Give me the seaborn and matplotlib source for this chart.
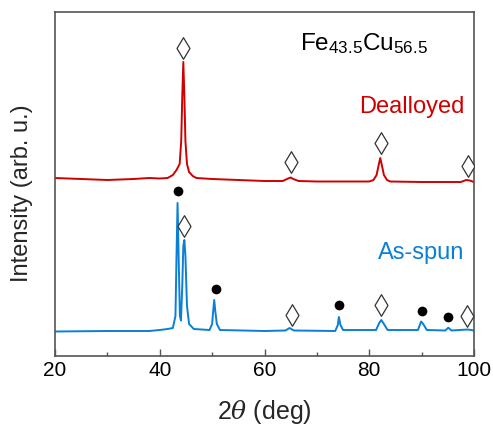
import numpy as np
import pandas as pd
import matplotlib
matplotlib.use("Agg")
import matplotlib.pyplot as plt
import seaborn as sns

# ---- data (intensity in arbitrary units) ----
dealloyed_2theta = [20, 25, 30, 35, 38, 40, 41.5, 42.5, 43.2, 43.8, 44.1, 44.3, 44.5,
                    44.7, 44.9, 45.2, 45.6, 46.3, 47, 50, 55, 60, 63.5, 64.5, 65, 65.5,
                    66.5, 70, 75, 80, 80.8, 81.4, 81.8, 82.1, 82.4, 82.8, 83.4, 84, 90,
                    95, 97.5, 98.5, 99.2, 100]
dealloyed_int = [178, 177, 176, 177, 178, 177.5, 178, 181, 186, 192, 215, 260, 294,
                 260, 215, 192, 184, 180, 178, 177, 176, 175, 175, 177.5, 178.5, 177,
                 175, 174.5, 174.5, 174.5, 176, 181, 191, 198, 191, 181, 176, 174.5, 174,
                 174, 174, 176, 175.5, 174]

asspun_2theta = [20, 30, 38, 40, 41.5, 42.5, 43.0, 43.2, 43.4, 43.6, 43.85, 44.05, 44.3,
                 44.5, 44.7, 44.9, 45.2, 45.6, 46.5, 49.5, 50.0, 50.2, 50.4, 50.6, 50.9,
                 51.5, 60, 64.0, 64.8, 65.6, 73.5, 74.0, 74.2, 74.5, 75, 81.3, 81.9, 82.3,
                 82.8, 83.5, 89.3, 89.9, 90.3, 91, 94.5, 95.1, 95.7, 98.8, 100]
asspun_int = [24.5, 25, 25, 26, 27, 28, 40, 100, 153, 100, 40, 35.5, 70,
              110, 116, 100, 50, 32, 27, 26, 32, 45, 56, 45, 32,
              26, 25, 25.5, 28, 25.5, 25, 31, 39, 31, 26, 26, 33, 36,
              32, 26, 26, 34.5, 32, 26, 25.5, 28.3, 25.5, 26.5, 25.5]

# phase markers: diamonds (Fe) and dots (Cu)
diamond_x = [44.5, 65.0, 82.2, 98.8, 44.7, 65.2, 82.2, 98.6]
diamond_y = [308, 194, 213, 190, 130, 41, 51, 40]
dot_x = [43.5, 50.7, 74.2, 90.1, 95.1]
dot_y = [165, 67, 51, 45, 39]

x_ticks = [20, 40, 60, 80, 100]

RED = "#d00000"
BLUE = "#0a7fd6"

sns.set_theme(style="ticks")
plt.rcParams["font.family"] = ["Liberation Sans", "DejaVu Sans"]
plt.rcParams["mathtext.fontset"] = "custom"
plt.rcParams["mathtext.rm"] = "Liberation Sans"
plt.rcParams["mathtext.it"] = "DejaVu Serif:italic"

fig = plt.figure(figsize=(4.93, 4.27), dpi=100)
ax = fig.add_axes([55 / 493, 1 - 357 / 427, (474 - 55) / 493, (357 - 13) / 427])

sns.lineplot(x=dealloyed_2theta, y=dealloyed_int, sort=False, estimator=None,
             color=RED, linewidth=1.4, ax=ax)
sns.lineplot(x=asspun_2theta, y=asspun_int, sort=False, estimator=None,
             color=BLUE, linewidth=1.4, ax=ax)

sns.scatterplot(x=diamond_x, y=diamond_y, marker="d", s=11 ** 2, facecolor="white",
                edgecolor="#333333", linewidth=0.9, ax=ax, zorder=5)
sns.scatterplot(x=dot_x, y=dot_y, marker="o", s=7 ** 2, color="black",
                edgecolor="black", linewidth=0, ax=ax, zorder=5)

ax.text(66.8, 307, r"Fe$_{\mathrm{43.5}}$Cu$_{\mathrm{56.5}}$", fontsize=17.5,
        ha="left", va="baseline", color="black")
ax.text(98.2, 244, "Dealloyed", fontsize=17, ha="right", va="baseline", color=RED)
ax.text(98.2, 98, "As-spun", fontsize=17, ha="right", va="baseline", color=BLUE)

ax.set_xlim(20, 100)
ax.set_ylim(0, 344)
ax.set_xticks(x_ticks)
ax.set_xticks([30, 50, 70, 90], minor=True)
ax.set_yticks([])
ax.tick_params(axis="x", which="major", direction="in", length=5, width=1,
               color="#555555", labelsize=15, pad=3, labelcolor="black")
ax.tick_params(axis="x", which="minor", direction="in", length=3, width=1,
               color="#555555")
for s in ax.spines.values():
    s.set_visible(True)
    s.set_color("#555555")
    s.set_linewidth(1.2)

ax.set_xlabel(r"2$\mathit{\theta}$ (deg)", fontsize=18)
ax.set_ylabel("Intensity (arb. u.)", fontsize=17)
ax.xaxis.set_label_coords((264 - 55) / 419, -(412 - 357) / 344)
ax.yaxis.set_label_coords((22 - 55) / 419, (357 - 193) / 344)
ax.xaxis.label.set_va("center")
ax.yaxis.label.set_va("center")

fig.savefig("out.png", dpi=100)
